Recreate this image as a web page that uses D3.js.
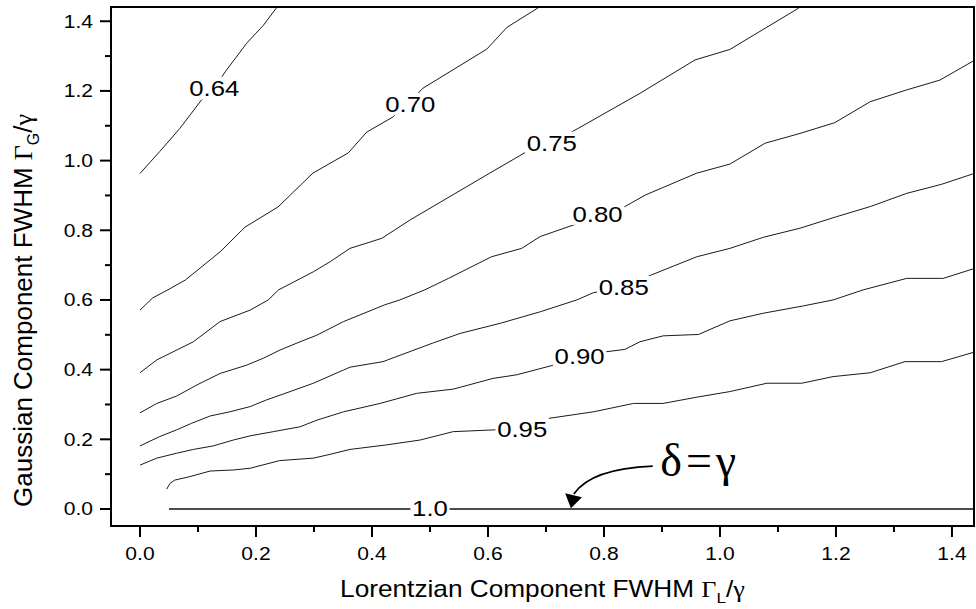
<!DOCTYPE html>
<html><head><meta charset="utf-8">
<script src="https://cdn.jsdelivr.net/npm/d3@7"></script>
<style>body{margin:0;background:#fff} svg{display:block}</style>
</head><body>
<svg id="chart" width="976" height="609"></svg>
<script>
// ---- data ----
const xMajorTicks = [0.0, 0.2, 0.4, 0.6, 0.8, 1.0, 1.2, 1.4];
const xMinorTicks = [0.1, 0.3, 0.5, 0.7, 0.9, 1.1, 1.3];
const yMajorTicks = [0.0, 0.2, 0.4, 0.6, 0.8, 1.0, 1.2, 1.4];
const yMinorTicks = [0.1, 0.3, 0.5, 0.7, 0.9, 1.1, 1.3];
const tickLabels = ["0.0", "0.2", "0.4", "0.6", "0.8", "1.0", "1.2", "1.4"];

const levels = ["0.64", "0.70", "0.75", "0.80", "0.85", "0.90", "0.95", "1.0"];
const labelX = [0.128, 0.466, 0.710, 0.789, 0.834, 0.758, 0.659, 0.500];
const labelY = [1.208, 1.162, 1.051, 0.848, 0.637, 0.441, 0.230, 0.004];

const c064 = [[0,0.963],[0.034,1.026],[0.069,1.093],[0.106,1.174],[0.128,1.208],[0.147,1.255],[0.184,1.337],[0.213,1.389],[0.236,1.440],[0.245,1.46]];
const c070 = [[0,0.571],[0.022,0.606],[0.048,0.629],[0.078,0.657],[0.138,0.738],[0.181,0.809],[0.238,0.867],[0.298,0.964],[0.359,1.022],[0.391,1.082],[0.436,1.125],[0.466,1.171],[0.488,1.208],[0.598,1.320],[0.633,1.383],[0.686,1.438],[0.70,1.46]];
const c075 = [[0,0.391],[0.029,0.428],[0.092,0.480],[0.138,0.538],[0.190,0.571],[0.221,0.600],[0.239,0.629],[0.299,0.681],[0.328,0.710],[0.362,0.748],[0.417,0.777],[0.466,0.830],[0.603,0.964],[0.667,1.026],[0.710,1.051],[0.756,1.093],[0.862,1.193],[0.957,1.289],[1.017,1.319],[1.078,1.380],[1.135,1.437],[1.15,1.46]];
const c080 = [[0,0.276],[0.029,0.303],[0.063,0.324],[0.098,0.356],[0.138,0.389],[0.184,0.413],[0.213,0.433],[0.241,0.456],[0.276,0.480],[0.305,0.499],[0.351,0.538],[0.422,0.586],[0.448,0.600],[0.491,0.629],[0.532,0.662],[0.606,0.724],[0.658,0.748],[0.690,0.782],[0.747,0.815],[0.789,0.848],[0.836,0.868],[0.871,0.901],[0.960,0.964],[1.017,0.990],[1.078,1.050],[1.138,1.078],[1.198,1.109],[1.259,1.169],[1.322,1.203],[1.379,1.231],[1.440,1.289]];
const c085 = [[0,0.181],[0.034,0.208],[0.063,0.227],[0.089,0.246],[0.121,0.267],[0.155,0.279],[0.190,0.294],[0.218,0.313],[0.247,0.330],[0.299,0.361],[0.351,0.399],[0.362,0.407],[0.419,0.423],[0.506,0.477],[0.552,0.504],[0.621,0.533],[0.690,0.566],[0.753,0.600],[0.782,0.621],[0.834,0.637],[0.882,0.672],[0.960,0.724],[1.017,0.748],[1.075,0.780],[1.138,0.806],[1.201,0.839],[1.259,0.868],[1.322,0.906],[1.382,0.932],[1.440,0.964]];
const c090 = [[0,0.126],[0.029,0.146],[0.063,0.160],[0.092,0.171],[0.126,0.181],[0.161,0.198],[0.190,0.210],[0.230,0.222],[0.276,0.236],[0.305,0.255],[0.351,0.279],[0.414,0.303],[0.477,0.332],[0.540,0.344],[0.609,0.375],[0.649,0.385],[0.713,0.413],[0.758,0.441],[0.802,0.451],[0.836,0.458],[0.862,0.480],[0.902,0.497],[0.963,0.501],[1.017,0.540],[1.075,0.562],[1.144,0.583],[1.195,0.600],[1.247,0.629],[1.322,0.662],[1.385,0.662],[1.440,0.691]];
const c095 = [[0.046,0.057],[0.052,0.074],[0.060,0.083],[0.086,0.093],[0.121,0.109],[0.161,0.112],[0.190,0.117],[0.241,0.139],[0.299,0.146],[0.328,0.157],[0.362,0.171],[0.425,0.184],[0.483,0.198],[0.540,0.222],[0.609,0.227],[0.659,0.230],[0.704,0.260],[0.782,0.279],[0.851,0.303],[0.902,0.303],[0.960,0.321],[1.017,0.337],[1.081,0.361],[1.141,0.361],[1.195,0.380],[1.259,0.391],[1.319,0.423],[1.382,0.423],[1.440,0.451]];
const c100 = [[0.05,0.0],[1.44,0.0]];
const contours = [c064, c070, c075, c080, c085, c090, c095, c100];

// annotation (data units)
const annotText = "δ=γ";
const annotPos = [0.897, 0.095];
const arrowCurve = [[0.884,0.123],[0.810,0.118],[0.767,0.089],[0.748,0.043]];
const arrowHead = [[0.733,0.045],[0.762,0.034],[0.743,0.002]];

// ---- drawing ----
const svg = d3.select("#chart");
const L = 111, R = 974, T = 7, B = 526;
const x = d3.scaleLinear().domain([-0.05, 1.438]).range([L, R]);
const y = d3.scaleLinear().domain([-0.0488, 1.4409]).range([B, T]);
const SANS = "'Liberation Sans', Arial, Helvetica, sans-serif";
const SERIF = "'Liberation Serif', 'Times New Roman', serif";

svg.append("defs").append("clipPath").attr("id", "plotclip")
  .append("rect").attr("x", L).attr("y", T).attr("width", R - L).attr("height", B - T);

const plot = svg.append("g").attr("clip-path", "url(#plotclip)");
const line = d3.line().x(d => x(d[0])).y(d => y(d[1]));
contours.forEach((c, i) => {
  plot.append("path").attr("d", line(c)).attr("fill", "none")
    .attr("stroke", i === 7 ? "#111" : "#000")
    .attr("stroke-width", i === 7 ? 1.5 : 0.9);
});

// contour labels with knockout
levels.forEach((lv, i) => {
  const g = plot.append("g")
    .attr("transform", `translate(${x(labelX[i])},${y(labelY[i])}) scale(1.12,1)`);
  const r = g.append("rect").attr("fill", "#fff");
  const t = g.append("text").text(lv)
    .attr("text-anchor", "middle").attr("dy", "0.36em")
    .attr("font-family", SANS).attr("font-size", 23).attr("fill", "#000");
  const bb = t.node().getBBox();
  const cap = 23 * 0.72;
  r.attr("x", bb.x - 1.5).attr("width", bb.width + 3)
   .attr("y", -cap / 2 - 3).attr("height", cap + 6);
});

// annotation
svg.append("path")
  .attr("d", `M${x(arrowCurve[0][0])},${y(arrowCurve[0][1])} C${x(arrowCurve[1][0])},${y(arrowCurve[1][1])} ${x(arrowCurve[2][0])},${y(arrowCurve[2][1])} ${x(arrowCurve[3][0])},${y(arrowCurve[3][1])}`)
  .attr("fill", "none").attr("stroke", "#000").attr("stroke-width", 1.8);
svg.append("polygon")
  .attr("points", arrowHead.map(p => `${x(p[0])},${y(p[1])}`).join(" "))
  .attr("fill", "#000");
svg.append("text").text(annotText)
  .attr("x", x(annotPos[0])).attr("y", y(annotPos[1]))
  .attr("font-family", SERIF).attr("font-size", 46).attr("letter-spacing", 4)
  .attr("fill", "#000");

// frame
svg.append("rect").attr("x", L).attr("y", T).attr("width", R - L).attr("height", B - T)
  .attr("fill", "none").attr("stroke", "#000").attr("stroke-width", 2);

// ticks
const tk = svg.append("g").attr("stroke", "#000").attr("stroke-width", 2);
xMajorTicks.forEach(v => tk.append("line").attr("x1", x(v)).attr("x2", x(v)).attr("y1", B).attr("y2", B + 11));
xMinorTicks.forEach(v => tk.append("line").attr("x1", x(v)).attr("x2", x(v)).attr("y1", B).attr("y2", B + 6));
yMajorTicks.forEach(v => tk.append("line").attr("y1", y(v)).attr("y2", y(v)).attr("x1", L).attr("x2", L - 11));
yMinorTicks.forEach(v => tk.append("line").attr("y1", y(v)).attr("y2", y(v)).attr("x1", L).attr("x2", L - 6));

xMajorTicks.forEach((v, i) => {
  svg.append("text").text(tickLabels[i])
    .attr("transform", `translate(${x(v)},560) scale(1.17,1)`)
    .attr("text-anchor", "middle").attr("font-family", SANS).attr("font-size", 18).attr("fill", "#000");
});
yMajorTicks.forEach((v, i) => {
  svg.append("text").text(tickLabels[i])
    .attr("transform", `translate(93,${y(v)}) scale(1.17,1)`)
    .attr("text-anchor", "end").attr("dy", "0.36em")
    .attr("font-family", SANS).attr("font-size", 18).attr("fill", "#000");
});

// axis titles
const xt = svg.append("text")
  .attr("transform", `translate(${(L + R) / 2},597) scale(1.14,1)`)
  .attr("text-anchor", "middle").attr("font-family", SANS).attr("font-size", 23).attr("fill", "#000");
xt.append("tspan").text("Lorentzian Component FWHM ");
xt.append("tspan").attr("font-family", SERIF).text("Γ");
xt.append("tspan").attr("font-size", 15).attr("dy", 6).text("L");
xt.append("tspan").attr("dy", -6).text("/");
xt.append("tspan").attr("font-family", SERIF).text("γ");

const yt = svg.append("text")
  .attr("transform", "translate(32,507) rotate(-90)")
  .attr("text-anchor", "start").attr("font-family", SANS).attr("font-size", 26).attr("fill", "#000");
yt.append("tspan").text("Gaussian Component FWHM ");
yt.append("tspan").attr("font-family", SERIF).text("Γ");
yt.append("tspan").attr("font-size", 16).attr("dy", 7).text("G");
yt.append("tspan").attr("dy", -7).text("/");
yt.append("tspan").attr("font-family", SERIF).text("γ");
</script>
</body></html>
